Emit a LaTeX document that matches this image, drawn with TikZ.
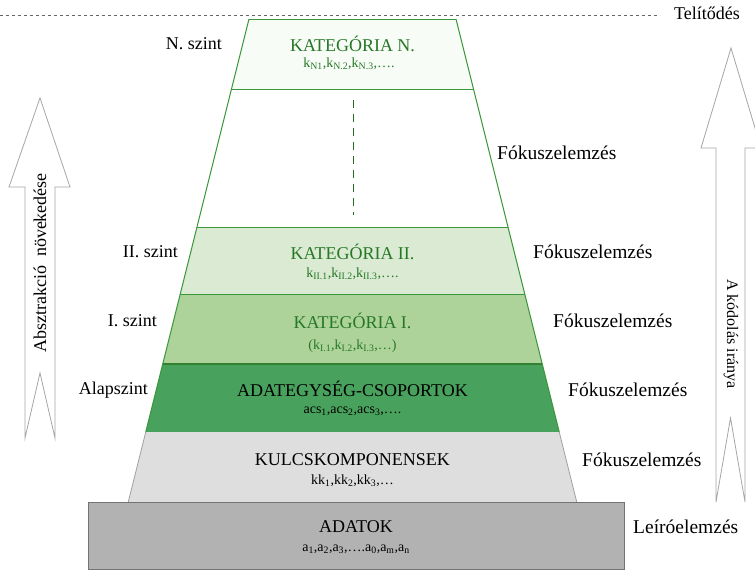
\documentclass[tikz,border=0pt]{standalone}
\usepackage{fontspec}
\setmainfont{Liberation Serif}
\usetikzlibrary{positioning}
\definecolor{zoldvonal}{RGB}{58,152,58}
\definecolor{zoldszoveg}{RGB}{38,120,38}
\definecolor{nszin}{RGB}{248,252,246}
\definecolor{iiszin}{RGB}{218,234,211}
\definecolor{iszin}{RGB}{173,211,155}
\definecolor{adatszin}{RGB}{72,161,92}
\definecolor{kulcsszin}{RGB}{222,222,222}
\definecolor{adatokszin}{RGB}{178,178,178}
\begin{document}
\begin{tikzpicture}[x=1pt,y=-1pt,
    declare function={hw(\y)=103.5+0.25*(\y-19);},
    cim/.style={font=\fontsize{18}{21}\selectfont,text=zoldszoveg,inner sep=0pt},
    alcim/.style={font=\fontsize{14}{16}\selectfont,text=zoldszoveg,inner sep=0pt},
    oldal/.style={font=\fontsize{18}{21}\selectfont,inner sep=0pt},
    fokusz/.style={font=\fontsize{19.5}{22}\selectfont,inner sep=0pt,anchor=west},
    nyil/.style={draw=gray!70,line width=0.8pt,fill=white}]
  \useasboundingbox (0,0) rectangle (755,570);
  % telitodes
  \draw[gray!80!black,dashed,line width=0.8pt] (0,15) -- (660,15);
  \node[oldal,anchor=west] (telit) at (674,13) {Telítődés};
  % piramis szintjei
  \foreach \fent/\lent/\szin in {19/89/nszin,227/294/iiszin,294/364/iszin,364/432/adatszin,432/502/kulcsszin}{
    \fill[\szin] ({352.5-hw(\fent)},\fent) -- ({352.5+hw(\fent)},\fent) -- ({352.5+hw(\lent)},\lent) -- ({352.5-hw(\lent)},\lent) -- cycle;
  }
  \draw[zoldvonal,line width=1pt] ({352.5-hw(19)},19) -- ({352.5-hw(432)},432);
  \draw[zoldvonal,line width=1pt] ({352.5+hw(19)},19) -- ({352.5+hw(432)},432);
  \foreach \h in {19,89,227,294}{
    \draw[zoldvonal,line width=1pt] ({352.5-hw(\h)},\h) -- ({352.5+hw(\h)},\h);
  }
  \draw[zoldvonal!85!black,line width=2pt] ({352.5-hw(364)},364) -- ({352.5+hw(364)},364);
  \draw[gray!75,line width=0.8pt] ({352.5-hw(432)},432) -- ({352.5-hw(502)},502);
  \draw[gray!75,line width=0.8pt] ({352.5+hw(432)},432) -- ({352.5+hw(502)},502);
  \draw[zoldvonal!70!black,dashed,dash pattern=on 8pt off 6pt,line width=0.8pt] (353,100) -- (353,215);
  % adatok
  \draw[fill=adatokszin,draw=gray!90!black,line width=0.8pt] (88,502) rectangle (624,569);
  % feliratok
  \node[cim] (katN) at (352.5,44) {KATEGÓRIA N.};
  \node[alcim] (katNk) at (349,64) {k\textsubscript{N1},k\textsubscript{N.2},k\textsubscript{N.3},\ldots.};
  \node[cim] (katII) at (352.5,252) {KATEGÓRIA II.};
  \node[alcim] (katIIk) at (352.5,274) {k\textsubscript{II.1},k\textsubscript{II.2},k\textsubscript{II.3},\ldots.};
  \node[cim] (katI) at (352.5,321) {KATEGÓRIA I.};
  \node[alcim] (katIk) at (352.5,346) {(k\textsubscript{I.1},k\textsubscript{I.2},k\textsubscript{I.3},\ldots)};
  \node[cim,text=black] (acs) at (352.5,389) {ADATEGYSÉG-CSOPORTOK};
  \node[alcim,text=black] (acsk) at (352.5,411) {acs\textsubscript{1},acs\textsubscript{2},acs\textsubscript{3},\ldots.};
  \node[cim,text=black] (kulcs) at (352.5,460) {KULCSKOMPONENSEK};
  \node[alcim,text=black] (kulcsk) at (352.5,481) {kk\textsubscript{1},kk\textsubscript{2},kk\textsubscript{3},\ldots};
  \node[cim,text=black] (adatok) at (356,527) {ADATOK};
  \node[alcim,text=black] (adatokk) at (356,549) {a\textsubscript{1},a\textsubscript{2},a\textsubscript{3},\ldots.a\textsubscript{0},a\textsubscript{m},a\textsubscript{n}};
  % szintek bal oldalt
  \node[oldal,anchor=east] (szN) at (222,44) {N. szint};
  \node[oldal,anchor=east] (szII) at (178,252) {II. szint};
  \node[oldal,anchor=east] (szI) at (157,321) {I. szint};
  \node[oldal,anchor=east] (szA) at (148,390) {Alapszint};
  % elemzesek jobb oldalt
  \node[fokusz] (fokN) at (497,153) {Fókuszelemzés};
  \node[fokusz] (fokII) at (533,252) {Fókuszelemzés};
  \node[fokusz] (fokI) at (553,321) {Fókuszelemzés};
  \node[fokusz] (fokA) at (568,390) {Fókuszelemzés};
  \node[fokusz] (fokK) at (582,460) {Fókuszelemzés};
  \node[fokusz] (leiro) at (633,527) {Leíróelemzés};
  % nyilak
  \draw[nyil] (40,98) -- (70,187) -- (55,187) -- (55,438) -- (40,373) -- (25,438) -- (25,187) -- (9,187) -- cycle;
  \node[oldal,rotate=90] (absz) at (40,263) {Absztrakció\ \ növekedése};
  \draw[nyil] (731,48) -- (761,148) -- (745,148) -- (745,502) -- (730.5,418) -- (716,502) -- (716,148) -- (701,148) -- cycle;
  \node[oldal,rotate=-90,font=\fontsize{16}{18}\selectfont] (kod) at (731,334) {A kódolás iránya};
\end{tikzpicture}
\end{document}
